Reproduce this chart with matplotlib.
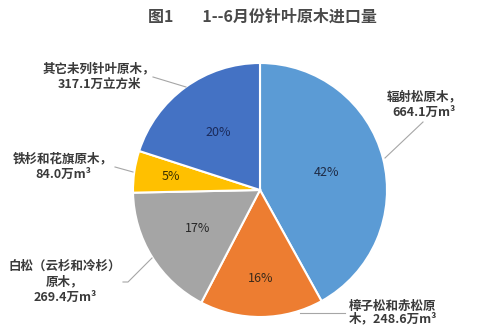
import matplotlib
matplotlib.use("Agg")
import matplotlib.pyplot as plt
import numpy as np

plt.rcParams['font.family'] = ['Noto Sans CJK SC', 'DejaVu Sans']

# Data (clockwise from 12 o'clock)
categories = ["辐射松原木", "樟子松和赤松原木", "白松（云杉和冷杉）原木", "铁杉和花旗原木", "其它未列针叶原木"]
values = [664.1, 248.6, 269.4, 84.0, 317.1]
value_labels = ["664.1万m³", "248.6万m³", "269.4万m³", "84.0万m³", "317.1万立方米"]
colors = ["#5B9BD5", "#ED7D31", "#A5A5A5", "#FFC000", "#4472C4"]
title = "图1        1--6月份针叶原木进口量"

W, H = 498, 327
fig = plt.figure(figsize=(W / 100, H / 100), dpi=100)
ax = fig.add_axes([0, 0, 1, 1])
ax.set_xlim(0, W)
ax.set_ylim(0, H)
ax.set_aspect('equal')
ax.axis('off')

cx, cy, R = 260, 327 - 190, 127
wedges, _ = ax.pie(values, colors=colors, startangle=90, counterclock=False,
                   center=(cx, cy), radius=R,
                   wedgeprops=dict(edgecolor='white', linewidth=1.5))
ax.set_xlim(0, W)
ax.set_ylim(0, H)

# percentage labels
total = sum(values)
pct_r = [0.54, 0.70, 0.58, 0.71, 0.56]
pct_colors = ["#1F2A44", "#3A2A1A", "#262626", "#3A3000", "#1A2A5A"]
cum = 0
for v, r, c in zip(values, pct_r, pct_colors):
    mid = 90 - (cum + v / 2) / total * 360
    cum += v
    ang = np.deg2rad(mid)
    ax.text(cx + r * R * np.cos(ang), cy + r * R * np.sin(ang),
            f"{v / total * 100:.0f}%", ha='center', va='center',
            fontsize=9, color=c)

tc = "#3a3a3a"
fig.text(262 / W, 1 - 17 / H, title, ha='center', va='center',
         fontsize=11.5, fontweight='bold', color="#4a4a4a")

def Y(y):
    return H - y

lab_kw = dict(ha='center', va='center', fontsize=9, fontweight='bold',
              color=tc, linespacing=1.25)

# 辐射松
ax.text(424, Y(105), categories[0] + "，\n" + value_labels[0], **lab_kw)
ax.plot([423, 385], [Y(122), Y(158)], color="#A6A6A6", lw=0.8)
# 樟子松和赤松
ax.text(393, Y(306), "樟子松和赤松原", **lab_kw)
ax.text(393, Y(319), "木，" + value_labels[1], **lab_kw)
ax.plot([300, 345], [Y(313), Y(313)], color="#A6A6A6", lw=0.8)
# 白松
ax.text(65, Y(282), "白松（云杉和冷杉）\n原木，\n" + value_labels[2], **lab_kw)
ax.plot([123, 128, 152], [Y(282), Y(282), Y(258)], color="#A6A6A6", lw=0.8)
# 铁杉
ax.text(63, Y(167), categories[3] + "，\n" + value_labels[3], **lab_kw)
ax.plot([115, 133], [Y(167), Y(172)], color="#A6A6A6", lw=0.8)
# 其它
ax.text(99, Y(77), categories[4] + "，\n" + value_labels[4], **lab_kw)
ax.plot([153, 186], [Y(77), Y(87)], color="#A6A6A6", lw=0.8)

fig.savefig("out.png", dpi=100, facecolor='white')
